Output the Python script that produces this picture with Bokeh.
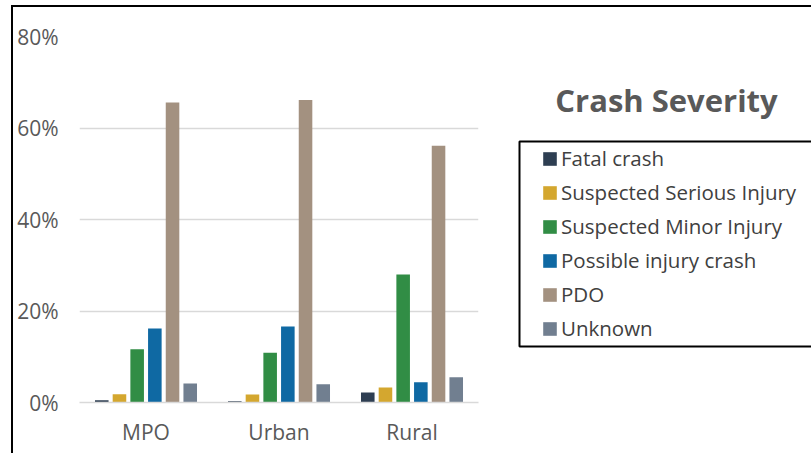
from bokeh.plotting import figure
from bokeh.layouts import row
from bokeh.models import (ColumnDataSource, Range1d, Legend, LegendItem, Label,
                          BoxAnnotation, FixedTicker, NumeralTickFormatter)
from bokeh.transform import dodge
from bokeh.embed import file_html
from bokeh.resources import INLINE

areas = ["MPO", "Urban", "Rural"]
series = ["Fatal crash", "Suspected Serious Injury", "Suspected Minor Injury",
          "Possible injury crash", "PDO", "Unknown"]
fatal = [0.005, 0.003, 0.022]
serious = [0.018, 0.0175, 0.033]
minor = [0.1165, 0.109, 0.280]
possible = [0.162, 0.166, 0.044]
pdo = [0.656, 0.661, 0.561]
unknown = [0.0415, 0.040, 0.055]
colors = ["#2E3E52", "#D4A72F", "#318D45", "#0F69A3", "#A39180", "#717F90"]
y_ticks = [0, 0.2, 0.4, 0.6, 0.8]
title_text = "Crash Severity"

keys = ["fatal", "serious", "minor", "possible", "pdo", "unknown"]
src = ColumnDataSource(dict(area=areas, fatal=fatal, serious=serious, minor=minor,
                            possible=possible, pdo=pdo, unknown=unknown))

FONT = "Open Sans"
H = 446
TOP = 29
BOT = H - 395

# ---- chart ----
p = figure(x_range=areas, y_range=Range1d(0, 0.8), width=487, height=H,
           output_backend="svg", toolbar_location=None,
           min_border_left=66, min_border_right=22, min_border_top=TOP,
           min_border_bottom=BOT)
p.outline_line_color = None

for i, (k, c) in enumerate(zip(keys, colors)):
    p.vbar(x=dodge("area", (i - 2.5) * 0.133, range=p.x_range), top=k,
           width=0.102, source=src, fill_color=c, line_color=None)

p.xgrid.grid_line_color = None
p.ygrid.grid_line_color = "#D9D9D9"
p.ygrid.grid_line_width = 1.5
p.yaxis.ticker = FixedTicker(ticks=y_ticks)
p.yaxis.formatter = NumeralTickFormatter(format="0%")
for ax in (p.xaxis[0], p.yaxis[0]):
    ax.axis_line_color = None
    ax.major_tick_line_color = None
    ax.minor_tick_line_color = None
    ax.major_tick_out = 0
    ax.major_tick_in = 0
    ax.minor_tick_out = 0
    ax.minor_tick_in = 0
    ax.major_label_text_font = FONT
    ax.major_label_text_font_size = "21px"
    ax.major_label_text_color = "#595959"
p.yaxis.major_label_standoff = 21
p.xaxis.major_label_standoff = 15
p.xaxis.axis_line_color = "#D9D9D9"
p.xaxis.axis_line_width = 1.5

# ---- legend panel (data units = canvas pixels) ----
W2 = 311
q = figure(x_range=Range1d(0, W2), y_range=Range1d(H - BOT, TOP), width=W2, height=H,
           output_backend="svg", toolbar_location=None,
           x_axis_location=None, y_axis_location=None,
           min_border_left=0, min_border_right=0, min_border_top=TOP,
           min_border_bottom=BOT)
q.outline_line_color = None
q.grid.grid_line_color = None

items = []
for s, k, c in zip(series, keys, colors):
    r = q.vbar(x=0, top=k, width=0, source=src, fill_color=c, line_color=None,
               visible=False)
    items.append(LegendItem(label=s, renderers=[r]))

legend = Legend(items=items, location=(41, 60), padding=0, margin=0, spacing=6,
                glyph_width=17, glyph_height=17, label_height=28, label_standoff=3,
                label_text_font=FONT, label_text_font_size="20.5px",
                label_text_color="#404040", border_line_alpha=0,
                background_fill_alpha=0, inactive_fill_alpha=0)
q.add_layout(legend)

q.add_layout(BoxAnnotation(left=19, right=W2 + 50, top=134, bottom=339,
                           fill_alpha=0, line_color="black", line_alpha=1,
                           line_width=2))

q.add_layout(Label(x=166, y=92, text=title_text, text_align="center",
                   text_baseline="alphabetic", text_font=FONT,
                   text_font_size="31px", text_font_style="bold",
                   text_color="#595959"))

layout = row(p, q, styles={"border-left": "2px solid black",
                           "border-top": "2px solid black",
                           "margin-left": "11px", "margin-top": "5px"})

open("out.html", "w").write(file_html(layout, INLINE))
